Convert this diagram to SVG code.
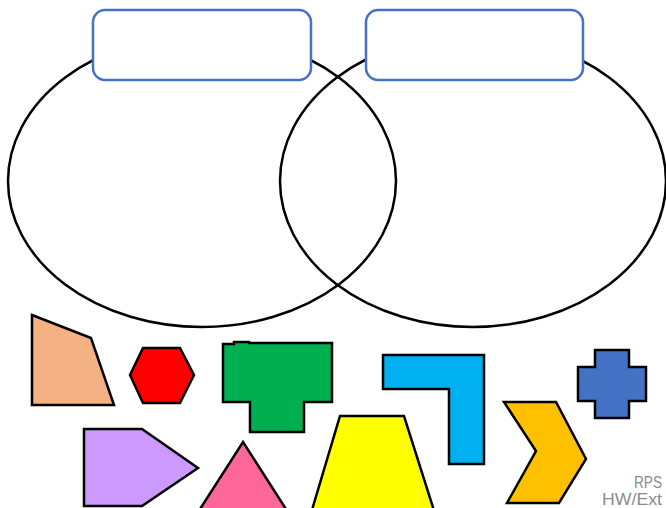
<svg xmlns="http://www.w3.org/2000/svg" width="666" height="508" viewBox="0 0 666 508">
<style>
.ell{fill:none;stroke:#000;stroke-width:2.5}
.box{fill:#fff;stroke:#4472C4;stroke-width:2.5}
.sh{stroke:#000;stroke-width:2.5;stroke-linejoin:miter}
.lbl{font-family:"Liberation Sans","DejaVu Sans",sans-serif;font-size:16px;fill:#8C8C8C}
</style>
<rect width="666" height="508" fill="#fff"/>
<g id="venn-left"><ellipse class="ell" cx="202" cy="181" rx="194" ry="146"/></g>
<g id="venn-right"><ellipse class="ell" cx="473" cy="181" rx="193" ry="146"/></g>
<g id="label-box-left"><rect class="box" x="93" y="10" width="218" height="70" rx="12"/></g>
<g id="label-box-right"><rect class="box" x="366" y="10" width="217" height="70" rx="12"/></g>
<g id="connectors"></g>
<g id="shape-quad"><polygon class="sh" fill="#F4B183" points="32,315 91,338 114,405 32,405"/></g>
<g id="shape-hexagon"><polygon class="sh" fill="#FF0000" points="143,348 180,348 194,375 180,403 143,403 130,375"/></g>
<g id="shape-t"><polygon class="sh" fill="#00B050" points="223,344 234,344 234,342 249,342 249,343 332,343 332,402 304,402 304,432 250,432 250,402 223,402"/></g>
<g id="shape-l"><polygon class="sh" fill="#00B0F0" points="383,355 484,355 484,464 449,464 449,389 383,389"/></g>
<g id="shape-cross"><polygon class="sh" fill="#4472C4" points="595,350 629,350 629,367 646,367 646,401 629,401 629,418 595,418 595,401 578,401 578,367 595,367"/></g>
<g id="shape-pentagon"><polygon class="sh" fill="#CC99FF" points="84,429 142,429 198,468 142,506 84,506"/></g>
<g id="shape-triangle"><polygon class="sh" fill="#FF6699" points="243,442 293,520 193,520"/></g>
<g id="shape-trapezoid"><polygon class="sh" fill="#FFFF00" points="340,416 404,416 437,520 309,520"/></g>
<g id="shape-chevron"><polygon class="sh" fill="#FFC000" points="504,402 556,402 586,459 559,503 507,503 536,451"/></g>
<g id="footer-text">
<text class="lbl" x="634" y="488" textLength="28" lengthAdjust="spacingAndGlyphs">RPS</text>
<text class="lbl" x="602" y="505" textLength="60" lengthAdjust="spacingAndGlyphs">HW/Ext</text>
</g>
</svg>
